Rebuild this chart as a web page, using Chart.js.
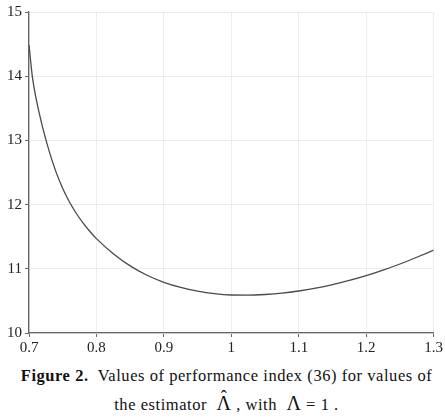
<!DOCTYPE html>
<html>
<head>
<meta charset="utf-8">
<script src="https://cdn.jsdelivr.net/npm/chart.js@4/dist/chart.umd.min.js"></script>
<style>
  body { margin: 0; background: #fff; }
  #wrap { position: relative; width: 445px; height: 418px; }
  #box { position: absolute; left: 0; top: 0; width: 445px; height: 362px; }
  .cap { position: absolute; left: 0; width: 453px; text-align: center;
         font-family: "Liberation Serif", "Times New Roman", serif; font-size: 16.5px;
         letter-spacing: 0.55px; color: #111; white-space: nowrap; }
  #cap1 { top: 366px; }
  #cap2 { top: 392px; }
  .sym { font-size: 20px; }
  .hat { position: relative; display: inline-block; }
  .hat .c { position: absolute; left: 0; right: 0; top: -5px; text-align: center; font-size: 18px; }
</style>
</head>
<body>
<div id="wrap">
  <div id="box"><canvas id="grafico"></canvas></div>
  <div class="cap" id="cap1"><b>Figure 2.</b>&nbsp; Values of performance index (36) for values of</div>
  <div class="cap" id="cap2">the estimator&nbsp; <span class="sym hat">&Lambda;<span class="c">&#710;</span></span> , with&nbsp; <span class="sym">&Lambda;</span> = 1 .</div>
</div>
<script>
// valores
const estimador = [0.700, 0.705, 0.710, 0.720, 0.730, 0.740, 0.750, 0.760, 0.770, 0.780, 0.790,
                   0.800, 0.825, 0.850, 0.875, 0.900, 0.925, 0.950, 0.975, 1.000, 1.025, 1.050,
                   1.075, 1.100, 1.125, 1.150, 1.175, 1.200, 1.225, 1.250, 1.275, 1.300];
const indice = [14.49, 13.99, 13.68, 13.21, 12.83, 12.51, 12.25, 12.04, 11.865, 11.715, 11.585,
                11.47, 11.235, 11.045, 10.90, 10.79, 10.71, 10.652, 10.612, 10.592, 10.59, 10.60,
                10.62, 10.654, 10.698, 10.753, 10.818, 10.893, 10.979, 11.075, 11.18, 11.29];
const ticksX = [0.7, 0.8, 0.9, 1, 1.1, 1.2, 1.3];
const ticksY = [10, 11, 12, 13, 14, 15];

const pontos = estimador.map((x, i) => ({ x: x, y: indice[i] }));
const fonte = { family: '"Liberation Serif", "Times New Roman", serif', size: 15 };

const ctx = document.getElementById('grafico').getContext('2d');
new Chart(ctx, {
    type: 'line',
    data: {
        datasets: [{
            data: pontos,
            borderColor: '#4a4a4a',
            borderWidth: 1.3,
            pointRadius: 0,
            cubicInterpolationMode: 'monotone',
            fill: false
        }]
    },
    options: {
        responsive: true,
        maintainAspectRatio: false,
        animation: false,
        layout: { padding: { left: 0, right: 10, top: 12, bottom: 0 } },
        plugins: { legend: { display: false }, tooltip: { enabled: false } },
        scales: {
            x: {
                type: 'linear',
                min: 0.7,
                max: 1.3,
                afterBuildTicks: s => { s.ticks = ticksX.map(v => ({ value: v })); },
                afterFit: s => { s.height = 29; },
                ticks: { color: '#222', font: fonte, padding: 2, maxRotation: 0,
                         callback: v => String(v) },
                grid: { color: '#ececec', tickColor: '#666', tickLength: 4, drawOnChartArea: true },
                border: { display: true, color: '#666', width: 1.3 }
            },
            y: {
                min: 10,
                max: 15,
                afterBuildTicks: s => { s.ticks = ticksY.map(v => ({ value: v })); },
                afterFit: s => { s.width = 29; },
                ticks: { color: '#222', font: fonte, padding: 3, callback: v => String(v) },
                grid: { color: '#ececec', tickColor: '#666', tickLength: 4 },
                border: { display: true, color: '#666', width: 1.3 }
            }
        }
    }
});
</script>
</body>
</html>
